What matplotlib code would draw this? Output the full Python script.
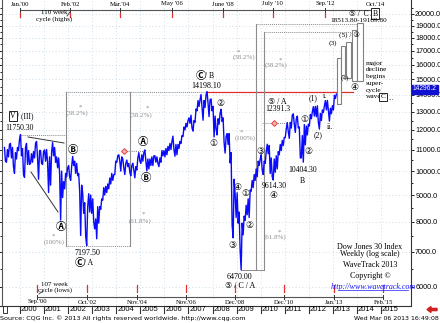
import matplotlib
matplotlib.use('Agg')
import matplotlib.pyplot as plt
import numpy as np
from matplotlib.patches import Rectangle, FancyArrow
import matplotlib.ticker as mticker

# ---------------- data (monthly high / low of weekly bars) -------------
start_year = 1999
start_month = 5   # May 1999
hi_1999 = [11100, 11000, 11250, 11300, 11100, 10850, 11100, 11500]
lo_1999 = [10450, 10400, 10650, 10600, 10200, 9900, 10550, 10950]
hi_2000 = [11750.3, 11050, 11100, 11300, 10950, 10800, 10900, 11300, 11400, 10950, 10950, 10900]
lo_2000 = [10700, 9850, 9730, 10300, 10300, 10350, 10400, 10600, 10600, 9650, 10350, 10300]
hi_2001 = [10980, 11000, 10650, 10850, 11350, 11100, 10650, 10600, 10000, 9550, 9900, 10150]
lo_2001 = [10450, 10400, 9100, 9400, 10700, 10400, 10150, 9900, 8060, 8900, 9250, 9750]
hi_2002 = [10250, 10200, 10670, 10450, 10350, 9900, 9400, 9080, 8700, 8550, 9050, 9000]
lo_2002 = [9750, 9600, 10250, 9900, 9800, 9150, 7530, 8300, 7500, 7197.5, 8350, 8300]
hi_2003 = [8850, 8100, 8550, 8550, 8850, 9300, 9350, 9450, 9700, 9900, 9850, 10450]
lo_2003 = [8000, 7750, 7420, 7950, 8450, 8800, 9000, 9100, 9250, 9450, 9600, 9850]
hi_2004 = [10700, 10750, 10650, 10550, 10350, 10500, 10350, 10250, 10350, 10200, 10600, 10850]
lo_2004 = [10400, 10450, 10000, 10150, 9850, 10200, 9950, 9800, 10050, 9710, 10050, 10450]
hi_2005 = [10750, 10850, 10980, 10550, 10550, 10650, 10700, 10700, 10650, 10600, 10950, 10950]
lo_2005 = [10350, 10450, 10450, 10010, 10100, 10250, 10250, 10400, 10350, 10200, 10400, 10700]
hi_2006 = [11050, 11150, 11300, 11400, 11670, 11250, 11250, 11400, 11700, 12150, 12350, 12500]
lo_2006 = [10650, 10750, 10950, 11000, 11000, 10680, 10750, 11050, 11300, 11650, 12000, 12150]
hi_2007 = [12650, 12800, 12500, 13150, 13650, 13700, 14020, 13650, 14000, 14198.1, 13700, 13750]
lo_2007 = [12350, 12100, 11930, 12400, 13050, 13300, 13250, 12520, 13250, 13500, 12720, 13050]
hi_2008 = [13300, 12750, 12600, 12900, 13140, 12650, 11650, 11800, 11800, 10850, 9650, 9030]
lo_2008 = [11630, 12050, 11730, 12300, 12450, 11350, 10830, 11250, 10370, 7880, 7450, 8150]
hi_2009 = [9090, 8350, 7950, 8200, 8600, 8850, 9200, 9600, 9850, 10100, 10450, 10550]
lo_2009 = [7950, 7050, 6470, 7550, 8050, 8250, 8150, 9150, 9300, 9600, 9750, 10250]
hi_2010 = [10750, 10450, 10900, 11260, 11200, 10600, 10550, 10700, 10900, 11250, 11450, 11600]
lo_2010 = [10050, 9850, 10350, 10800, 9900, 9750, 9614.3, 9950, 10100, 10750, 10950, 11200]
hi_2011 = [12050, 12391.3, 12400, 12810, 12876, 12600, 12750, 12150, 11700, 12280, 12200, 12300]
lo_2011 = [11600, 11900, 11555, 12090, 12300, 11860, 12100, 10600, 10600, 10404.3, 11230, 11730]
hi_2012 = [12840, 13000, 13290, 13300, 13340, 12900, 13100, 13330, 13650, 13660, 13200, 13350]
lo_2012 = [12200, 12600, 12750, 12710, 12400, 12040, 12500, 12950, 13100, 13050, 12470, 12880]
hi_2013 = [13970, 14050, 14296]
lo_2013 = [13100, 13780, 14050]

last_price_label = "14296.2"
price_ticks = [6000, 7000, 8000, 9000, 10000, 11000, 12000, 13000, 14000,
               15000, 16000, 17000, 18000, 19000, 20000]
years = list(range(2000, 2016))

# key levels
lvl_2000_high = 11750.30
lvl_2002_low = 7197.50
lvl_2007_high = 14198.10
lvl_2009_low = 6470.00
lvl_2011_high = 12391.3
lvl_diamond1 = 10940.0
lvl_target_lo = 18513.80
lvl_target_hi = 19169.80

# cycles
top_cycle_t = [2000.0, 2002.08, 2004.17, 2006.33, 2008.42, 2010.5, 2012.67, 2014.75]
top_cycle_lbl = ["Jan.'00", "Feb.'02", "Mar.'04", "May '06", "June '08", "July '10", "Sep.'12", "Oct.'14"]
bot_cycle_t = [2000.7, 2002.8, 2004.87, 2006.9, 2008.95, 2010.95, 2013.05, 2015.1]
bot_cycle_lbl = ["Sep.'00", "Oct.'02", "Nov.'04", "Nov.'06", "Dec.'08", "Dec.'10", "Jan.'13", "Feb.'15"]

# ---------------- build series ----------------
highs = hi_1999 + hi_2000 + hi_2001 + hi_2002 + hi_2003 + hi_2004 + hi_2005 + hi_2006 + \
        hi_2007 + hi_2008 + hi_2009 + hi_2010 + hi_2011 + hi_2012 + hi_2013
lows = lo_1999 + lo_2000 + lo_2001 + lo_2002 + lo_2003 + lo_2004 + lo_2005 + lo_2006 + \
       lo_2007 + lo_2008 + lo_2009 + lo_2010 + lo_2011 + lo_2012 + lo_2013
n = len(highs)
mids = [(h + l) / 2 for h, l in zip(highs, lows)]
ts, vs = [], []
for i in range(n):
    t0 = start_year + (start_month - 1 + i) / 12.0
    up = (i == n - 1) or (mids[i + 1] >= mids[i])
    a, b = (lows[i], highs[i]) if up else (highs[i], lows[i])
    ts += [t0 + 0.25 / 12, t0 + 0.75 / 12]
    vs += [a, b]

# ---------------- figure ----------------
W, H = 440, 323
fig = plt.figure(figsize=(4.4, 3.23), dpi=100)
fig.patch.set_facecolor('white')

PX_PER_YEAR = 24.07
def xd(px):  # pixel -> year
    return 2000 + (px - 20) / PX_PER_YEAR

L, R, T, B = 2, 411, 0, 305
ax = fig.add_axes([L / W, 1 - B / H, (R - L) / W, (B - T) / H])
ax.set_yscale('log')
ax.set_xlim(xd(L), xd(R))
lg20 = np.log10(20000)
ax.set_ylim(10 ** (lg20 - (B - 14) / 522.0), 10 ** (lg20 + 14 / 522.0))
ax.set_facecolor('white')

ax.yaxis.set_major_locator(mticker.FixedLocator(price_ticks))
ax.yaxis.set_minor_locator(mticker.FixedLocator([v + 500 for v in price_ticks]))
ax.yaxis.set_major_formatter(mticker.FuncFormatter(lambda v, p: f"{v:.1f}"))
ax.yaxis.set_minor_formatter(mticker.NullFormatter())
ax.tick_params(axis='y', which='both', left=True, right=True, labelleft=False,
               labelright=True, direction='out', length=2, width=0.6, pad=1,
               labelsize=5.2, colors='black')
ax.tick_params(axis='y', which='minor', length=1.5)
for lbl in ax.get_yticklabels():
    lbl.set_family(['Liberation Sans', 'DejaVu Sans'])
ax.set_xticks(years)
ax.tick_params(axis='x', bottom=False, labelbottom=False)
for s in ['top', 'bottom']:
    ax.spines[s].set_visible(False)
ax.spines['left'].set_color('#555555')
ax.spines['right'].set_color('#333333')
ax.spines['left'].set_linewidth(0.8)
ax.spines['right'].set_linewidth(0.8)
ax.grid(True, which='major', color='#b9d3e3', linestyle=(0, (1, 3)), linewidth=0.6)

GREY = '#8c8c8c'
# level lines / boxes
xb1, xb2 = xd(66), xd(130)
ax.plot([xb1, xb1], [lvl_2002_low, lvl_2007_high], color=GREY, lw=0.8)
ax.plot([xb2, xb2], [lvl_2002_low, lvl_2007_high], color=GREY, lw=0.8)
ax.plot([xb1, xb2], [lvl_2002_low, lvl_2002_low], color=GREY, lw=0.7, ls=(0, (1, 1)))
ax.plot([xb1, 2007.78], [lvl_2007_high, lvl_2007_high], color=GREY, lw=0.7, ls=(0, (1, 1)))
ax.plot([2007.78, xd(353)], [lvl_2007_high, lvl_2007_high], color='#e03030', lw=0.9)
ax.plot([2000.04, xb1], [lvl_2000_high, lvl_2000_high], color=GREY, lw=0.7, ls=(0, (1, 1)))

xr1, xr2 = xd(256), xd(264)
ax.plot([xr1, xr1], [lvl_2009_low, lvl_target_hi], color=GREY, lw=0.8)
ax.plot([xr2, xr2], [lvl_2009_low, lvl_target_lo], color=GREY, lw=0.8)
ax.plot([2009.18, xr2], [lvl_2009_low, lvl_2009_low], color=GREY, lw=0.7)
ax.plot([xr1, xd(357)], [lvl_target_hi, lvl_target_hi], color=GREY, lw=0.7, ls=(0, (1, 1)))
ax.plot([xr2, xd(352)], [lvl_target_lo, lvl_target_lo], color=GREY, lw=0.7, ls=(0, (1, 1)))

# red diamonds with dotted lines
ax.plot([xd(124), xd(145)], [lvl_diamond1, lvl_diamond1], color=GREY, lw=0.7, ls=(0, (1, 1)))
ax.plot([xd(124)], [lvl_diamond1], marker='D', ms=3, mfc='#ffb0b0', mec='#e03030', mew=0.6)
ax.plot([xd(262), xd(287)], [lvl_2011_high, lvl_2011_high], color=GREY, lw=0.7, ls=(0, (1, 1)))
ax.plot([xd(274)], [lvl_2011_high], marker='D', ms=3, mfc='#ffb0b0', mec='#e03030', mew=0.6)

# price line
ax.plot(ts, vs, color='#0a0aff', lw=1.0, zorder=5)

# ---------------- overlay in pixel coordinates ----------------
ov = fig.add_axes([0, 0, 1, 1], zorder=10)
ov.set_xlim(0, W)
ov.set_ylim(H, 0)
ov.axis('off')
ov.patch.set_alpha(0)

SERIF = ['Liberation Serif', 'DejaVu Sans', 'Noto Sans CJK SC']
SANS = ['DejaVu Sans', 'Noto Sans CJK SC']
ARIAL = ['Liberation Sans', 'DejaVu Sans']

def T(x, y, s, size=5.5, color='black', ha='center', fam=SERIF, **kw):
    ov.text(x, y, s, fontsize=size, color=color, ha=ha, va='center', family=fam, **kw)

def px_of(t):
    return 20 + (t - 2000) * PX_PER_YEAR

# trend lines on the left
ov.plot([28, 64], [137, 143], color='#333333', lw=0.7)
ov.plot([31, 58], [172, 212], color='#333333', lw=0.7)

# projected path bars
for (x0, y0, x1, y1) in [(337, 58, 341, 104), (341, 46, 345, 75), (346, 42, 351, 78),
                         (352, 30, 357, 81), (357, 23, 363, 81)]:
    ov.add_patch(Rectangle((x0, y0), x1 - x0, y1 - y0, fc='white', ec='#808080', lw=0.8, zorder=3))

# top cycle
ov.plot([px_of(top_cycle_t[0]), px_of(top_cycle_t[-1])], [10, 10], color='#555555', lw=0.8)
for t, lb in zip(top_cycle_t, top_cycle_lbl):
    x = px_of(t)
    ov.plot([x, x], [8, 12], color='#333333', lw=0.7)
    ov.plot([x, x], [13, 17], color='#e03030', lw=0.9)
    T(x, 4, lb, size=4.8)
T(54, 13, "110 week", size=5)
T(54, 19.5, "cycle (highs)", size=5)
ov.plot([67, 70], [16, 12], color='#333333', lw=0.6)

# bottom cycle
ov.plot([px_of(bot_cycle_t[0]), px_of(bot_cycle_t[-1])], [297, 297], color='#555555', lw=0.8)
for t, lb in zip(bot_cycle_t, bot_cycle_lbl):
    x = px_of(t)
    ov.plot([x, x], [295, 299], color='#333333', lw=0.7)
    ov.plot([x, x], [285, 292], color='#e03030', lw=0.9)
    T(x, 302, lb, size=4.8)
T(54, 285, "107 week", size=5)
T(55, 290.5, "cycle (lows)", size=5)
ov.plot([39, 43], [294, 291], color='#333333', lw=0.6)

# year strip
ov.plot([0, R], [305.5, 305.5], color='#333333', lw=0.8)
ov.add_patch(Rectangle((2.5, 306), 4.5, 7, fc='none', ec='#333333', lw=0.7))
for y in years:
    x = px_of(y)
    ov.plot([x, x], [306, 313], color='#333333', lw=0.8)
    T(x + 1, 309.5, str(y), size=5.5, ha='left', fam=ARIAL)
FA = FancyArrow(437, 309.5, -10, 0, width=2.2, head_width=6, head_length=4,
                length_includes_head=True, color='#d02020')
ov.add_patch(FA)
T(0, 318.5, "Source: CQG Inc. \u00a9 2013 All rights reserved worldwide. http://www.cqg.com",
  size=4.6, ha='left', fam=SANS)
T(439, 318.5, "Wed Mar 06 2013 16:49:08", size=4.5, ha='right', fam=SANS)

# last price box on right axis
T(413, 89, last_price_label, size=4.8, ha='left', fam=ARIAL, color='white',
  bbox=dict(boxstyle='square,pad=0.15', fc='#1010d0', ec='#1010d0'))

# labels
BOLDC = dict(size=7.5, fam=SANS, weight='bold')
GRY = '#8a8a8a'
T(13, 116, "V", size=5.5, bbox=dict(boxstyle='square,pad=0.15', fc='white', ec='black', lw=0.6))
T(25, 116, "/ (III)", size=5.5)
T(19, 128, "11750.30", size=5.5)
T(73, 150, "\u24b7", **BOLDC)
T(61, 227, "\u24b6", **BOLDC)
T(53, 236, "*", size=5, color=GRY)
T(54, 242, "(100%)", size=5, color=GRY)
T(87, 253, "7197.50", size=5.8)
T(80, 263, "\u24b8", **BOLDC)
T(89, 263, "/ A", size=5.5)
T(80, 107, "*", size=5, color=GRY)
T(77, 113, "(38.2%)", size=5, color=GRY)
T(147, 108, "*", size=5, color=GRY)
T(141, 115, "(38.2%)", size=5, color=GRY)
T(143, 214, "*", size=5, color=GRY)
T(140, 221, "(61.8%)", size=5, color=GRY)
T(143, 142, "\u24b6", **BOLDC)
T(146, 178, "\u24b7", **BOLDC)
T(201, 76, "\u24b8", **BOLDC)
T(210, 76, "/ B", size=5.5)
T(206, 86, "14198.10", size=5.8)
T(220, 103, "\u2461", size=6.5, fam=SANS)
T(213, 144, "\u2460", size=6.5, fam=SANS)
T(241, 132, "*", size=5, color=GRY)
T(245, 138, "(100%)", size=5, color=GRY)
T(237, 188, "\u2463", size=6.5, fam=SANS)
T(245, 193, "\u2460", size=6.5, fam=SANS)
T(232, 246, "\u2462", size=6.5, fam=SANS)
T(249, 226, "\u2461", size=6.5, fam=SANS)
T(260, 151, "\u2462", size=6.5, fam=SANS)
T(239, 277, "6470.00", size=5.8)
T(240, 286, "\u2464 / C / A", size=5.8)
T(277, 102, "\u2464 / A", size=5.8)
T(278, 109, "12391.3", size=5.5)
T(274, 186, "9614.30", size=5.5)
T(273, 195, "\u2463", size=6.5, fam=SANS)
T(304, 119, "\u2460", size=6.5, fam=SANS)
T(308, 151, "\u2461", size=6.5, fam=SANS)
T(303, 170, "10404.30", size=5.5)
T(302, 181, "B", size=5.5)
T(313, 98, "(1)", size=5.5)
T(318, 135, "(2)", size=5.5)
T(325, 96, "i.", size=5.5)
T(330, 127, "ii.", size=5.5)
T(333, 43, "(3)", size=5.3)
T(345, 78, "(4)", size=5.3)
T(349, 35, "(5) / \u2462", size=5.3)
T(354, 88, "\u2463", size=6.5, fam=SANS)
T(361, 13.5, "\u2464 /  C /", size=5.5)
T(375, 13.5, "B", size=5.5, bbox=dict(boxstyle='square,pad=0.15', fc='white', ec='black', lw=0.6))
T(359, 20, "18513.80-19169.80", size=5.2)
T(238, 52, "*", size=5, color=GRY)
T(244, 57, "(38.2%)", size=5, color=GRY)
T(280, 60, "*", size=5, color=GRY)
T(276, 65, "(38.2%)", size=5, color=GRY)
T(279, 232, "*", size=5, color=GRY)
T(275, 237, "(61.8%)", size=5, color=GRY)
for i, w in enumerate(["major", "decline", "begins", "super-", "cycle"]):
    T(366, 63 + i * 6.8, w, size=5.3, ha='left')
T(366, 97, "wave", size=5.3, ha='left')
T(383, 97, "C", size=5.3, bbox=dict(boxstyle='square,pad=0.15', fc='white', ec='black', lw=0.6))
T(389, 98, "...", size=5, ha='left')

T(370, 247, "Dow Jones 30 Index", size=5.8)
T(370, 253.5, "Weekly (log scale)", size=5.8)
T(370, 265, "WaveTrack 2013", size=5.8)
T(370, 276, "Copyright \u00a9", size=5.8)
T(373, 287, "http://www.wavetrack.com", size=5.8, color='#1a1aff', style='italic')
ov.plot([339, 408], [290, 290], color='#1a1aff', lw=0.5)

fig.savefig('out.png', dpi=100, facecolor='white')
